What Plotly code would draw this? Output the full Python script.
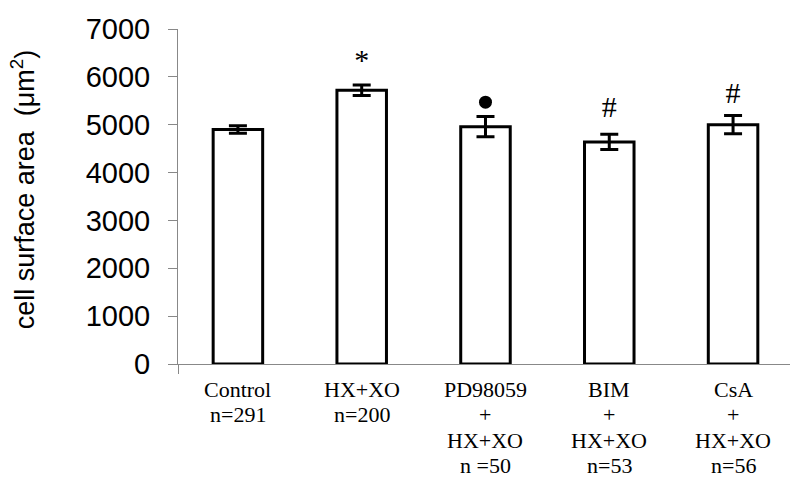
import plotly.graph_objects as go

categories = ["Control", "HX+XO", "PD98059", "BIM", "CsA"]
label_lines = [
    ["Control", "n=291"],
    ["HX+XO", "n=200"],
    ["PD98059", "+", "HX+XO", "n =50"],
    ["BIM", "+", "HX+XO", "n=53"],
    ["CsA", "+", "HX+XO", "n=56"],
]
means = [4900, 5720, 4960, 4640, 5000]
errors = [80, 110, 210, 160, 190]
sig_text = ["", "*", "", "#", "#"]
sig_y = [None, 6300, 5470, 5310, 5620]
y_ticks = [0, 1000, 2000, 3000, 4000, 5000, 6000, 7000]

xs = list(range(len(categories)))

fig = go.Figure()
fig.add_trace(go.Bar(
    x=xs, y=means, width=0.4,
    marker=dict(color="white", line=dict(color="black", width=3)),
    error_y=dict(type="data", array=errors, visible=True, color="black", thickness=3, width=9),
    showlegend=False, hoverinfo="skip",
))

# significance markers
txt_x = [x for x, t in zip(xs, sig_text) if t]
txt_y = [y for y, t in zip(sig_y, sig_text) if t]
txt_t = [t for t in sig_text if t]
fig.add_trace(go.Scatter(
    x=txt_x, y=txt_y, text=txt_t, mode="text",
    textfont=dict(family="Liberation Serif", size=30, color="black"),
    textposition="middle center", showlegend=False, hoverinfo="skip",
))
dot_x = [x for x, t, y in zip(xs, sig_text, sig_y) if not t and y is not None]
dot_y = [y for t, y in zip(sig_text, sig_y) if not t and y is not None]
fig.add_trace(go.Scatter(
    x=dot_x, y=dot_y, mode="markers",
    marker=dict(symbol="circle", size=13, color="black"),
    showlegend=False, hoverinfo="skip",
))

line_centers_px = [390, 415, 440, 465]
plot_top, plot_bottom = 29, 364
for x, lines in zip(xs, label_lines):
    for i, ln in enumerate(lines):
        fig.add_annotation(
            x=x, xref="x",
            y=(plot_bottom - line_centers_px[i]) / (plot_bottom - plot_top), yref="paper",
            text=ln, showarrow=False, xanchor="center", yanchor="middle",
            font=dict(family="Liberation Serif", size=22, color="black"),
        )

fig.add_annotation(
    x=-0.253, xref="paper", y=0.522, yref="paper",
    text="cell surface area  (\u03bcm<sup>2</sup>)", textangle=-90,
    showarrow=False, xanchor="center", yanchor="middle",
    font=dict(family="Liberation Sans", size=27, color="black"),
)

fig.update_layout(
    width=790, height=477,
    margin=dict(l=178, r=0, t=29, b=113),
    paper_bgcolor="white", plot_bgcolor="white",
    xaxis=dict(range=[-0.484, 4.46], showgrid=False, zeroline=False,
               showline=True, linecolor="#888888", linewidth=1,
               tickvals=[-0.484], showticklabels=False, ticks="outside", ticklen=9,
               tickcolor="#888888", fixedrange=True),
    yaxis=dict(range=[0, 7000], tickvals=y_ticks, showgrid=False, zeroline=False,
               showline=True, linecolor="#888888", linewidth=1,
               ticks="outside", ticklen=9, tickcolor="#888888",
               ticklabelstandoff=12,
               tickfont=dict(family="Liberation Sans", size=29, color="black")),
)

fig.write_html("out.html")
